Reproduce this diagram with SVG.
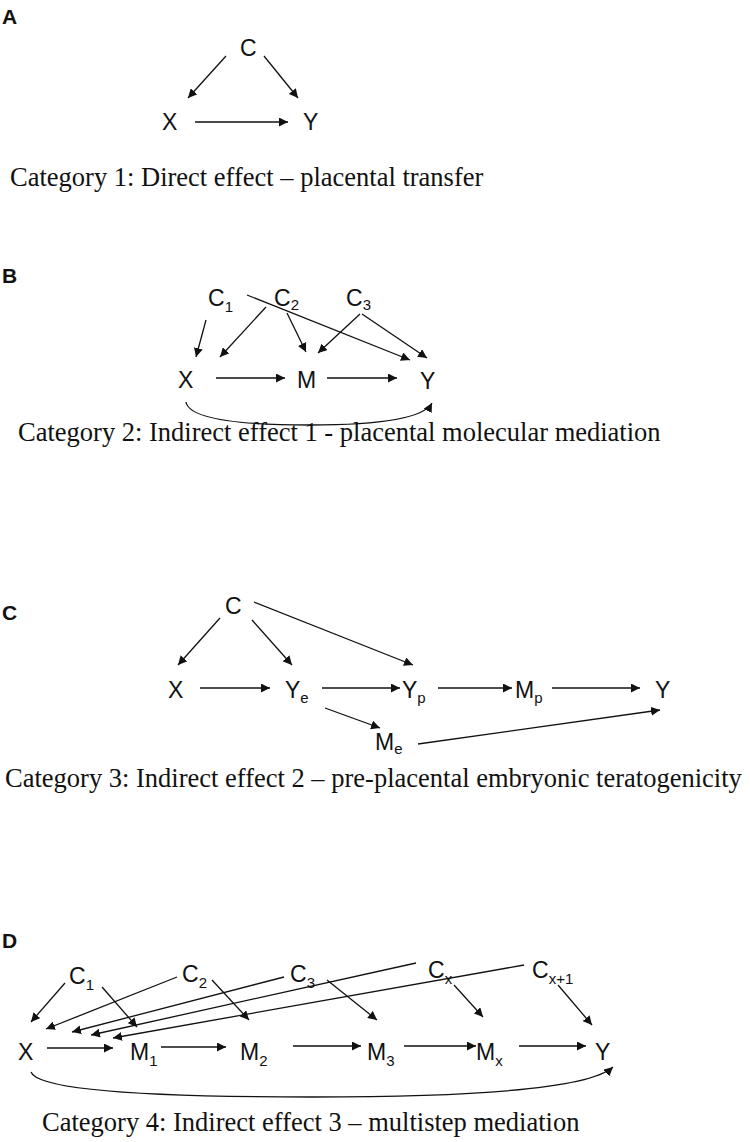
<svg xmlns="http://www.w3.org/2000/svg" width="750" height="1142" viewBox="0 0 750 1142">
<style>
.n{font-family:"Liberation Sans",Arial,sans-serif;font-size:23px;fill:#111}
.s{font-size:15px}
.p{font-family:"Liberation Sans",Arial,sans-serif;font-size:21px;font-weight:bold;fill:#111}
.cap{font-family:"Liberation Serif","Times New Roman",serif;font-size:26.5px;fill:#111}
.e{stroke:#111;stroke-width:1.3;fill:none;marker-end:url(#a)}
</style>
<defs><marker id="a" viewBox="0 0 10 10" refX="10" refY="5" markerWidth="9" markerHeight="9" markerUnits="userSpaceOnUse" orient="auto"><path d="M0,0L10,5L0,10z" fill="#111"/></marker></defs>
<rect width="750" height="1142" fill="#fff"/>
<text class="p" x="2" y="24">A</text>
<text class="p" x="2" y="283">B</text>
<text class="p" x="2" y="620">C</text>
<text class="p" x="2" y="948">D</text>
<text class="cap" x="10" y="186">Category 1: Direct effect – placental transfer</text>
<text class="cap" x="18" y="441">Category 2: Indirect effect 1 - placental molecular mediation</text>
<text class="cap" x="5" y="787">Category 3: Indirect effect 2 – pre-placental embryonic teratogenicity</text>
<text class="cap" x="42" y="1131">Category 4: Indirect effect 3 – multistep mediation</text>
<g id="A-C"><text class="n" x="240" y="56">C</text></g>
<g id="A-X"><text class="n" x="162" y="130">X</text></g>
<g id="A-Y"><text class="n" x="303" y="130">Y</text></g>
<g id="B-C1"><text class="n" x="208" y="306">C<tspan class="s" dy="6">1</tspan></text></g>
<g id="B-C2"><text class="n" x="274" y="306">C<tspan class="s" dy="4">2</tspan></text></g>
<g id="B-C3"><text class="n" x="346" y="306">C<tspan class="s" dy="4">3</tspan></text></g>
<g id="B-X"><text class="n" x="178" y="388">X</text></g>
<g id="B-M"><text class="n" x="297" y="388">M</text></g>
<g id="B-Y"><text class="n" x="420" y="389">Y</text></g>
<g id="C-C"><text class="n" x="225" y="614">C</text></g>
<g id="C-X"><text class="n" x="168" y="698">X</text></g>
<g id="C-Ye"><text class="n" x="285" y="698">Y<tspan class="s" dy="5">e</tspan></text></g>
<g id="C-Yp"><text class="n" x="402" y="698">Y<tspan class="s" dy="5">p</tspan></text></g>
<g id="C-Mp"><text class="n" x="515" y="698">M<tspan class="s" dy="5">p</tspan></text></g>
<g id="C-Y"><text class="n" x="655" y="698">Y</text></g>
<g id="C-Me"><text class="n" x="375" y="750">M<tspan class="s" dy="4">e</tspan></text></g>
<g id="D-C1"><text class="n" x="69" y="984">C<tspan class="s" dy="6">1</tspan></text></g>
<g id="D-C2"><text class="n" x="182" y="982">C<tspan class="s" dy="6">2</tspan></text></g>
<g id="D-C3"><text class="n" x="290" y="982">C<tspan class="s" dy="6">3</tspan></text></g>
<g id="D-Cx"><text class="n" x="428" y="978">C<tspan class="s" dy="6">x</tspan></text></g>
<g id="D-Cx1"><text class="n" x="532" y="978">C<tspan class="s" dy="6">x+1</tspan></text></g>
<g id="D-X"><text class="n" x="18" y="1060">X</text></g>
<g id="D-M1"><text class="n" x="130" y="1060">M<tspan class="s" dy="6">1</tspan></text></g>
<g id="D-M2"><text class="n" x="240" y="1060">M<tspan class="s" dy="6">2</tspan></text></g>
<g id="D-M3"><text class="n" x="367" y="1060">M<tspan class="s" dy="6">3</tspan></text></g>
<g id="D-Mx"><text class="n" x="476" y="1060">M<tspan class="s" dy="6">x</tspan></text></g>
<g id="D-Y"><text class="n" x="595" y="1060">Y</text></g>
<g id="connectors">
<path class="e" d="M226,56L188,98"/>
<path class="e" d="M264,56L298,98"/>
<path class="e" d="M195,122L288,122"/>
<path class="e" d="M206,320L196,357"/>
<path class="e" d="M266,307L220,357"/>
<path class="e" d="M287,313L306,352"/>
<path class="e" d="M360,314L318,353"/>
<path class="e" d="M362,314L427,358"/>
<path class="e" d="M247,295L410,360"/>
<path class="e" d="M216,378L285,378"/>
<path class="e" d="M327,378L397,378"/>
<path class="e" d="M186,402Q190,425 310,425Q420,425 432,403"/>
<path class="e" d="M220,618L178,665"/>
<path class="e" d="M252,620L292,665"/>
<path class="e" d="M254,602L413,665"/>
<path class="e" d="M200,688L270,688"/>
<path class="e" d="M322,688L400,688"/>
<path class="e" d="M438,688L512,688"/>
<path class="e" d="M552,688L640,688"/>
<path class="e" d="M325,708L380,728"/>
<path class="e" d="M418,744L660,710"/>
<path class="e" d="M65,983L31,1022"/>
<path class="e" d="M102,987L137,1027"/>
<path class="e" d="M177,977L46,1029"/>
<path class="e" d="M212,980L249,1020"/>
<path class="e" d="M284,977L72,1032"/>
<path class="e" d="M327,980L377,1020"/>
<path class="e" d="M416,963L91,1035"/>
<path class="e" d="M454,985L483,1017"/>
<path class="e" d="M524,965L113,1038"/>
<path class="e" d="M558,985L592,1025"/>
<path class="e" d="M47,1048L113,1048"/>
<path class="e" d="M161,1047L226,1047"/>
<path class="e" d="M293,1046L361,1046"/>
<path class="e" d="M404,1046L476,1046"/>
<path class="e" d="M519,1046L586,1046"/>
<path class="e" d="M31,1072Q40,1097 312,1097Q580,1097 613,1067"/>
</g>
</svg>
